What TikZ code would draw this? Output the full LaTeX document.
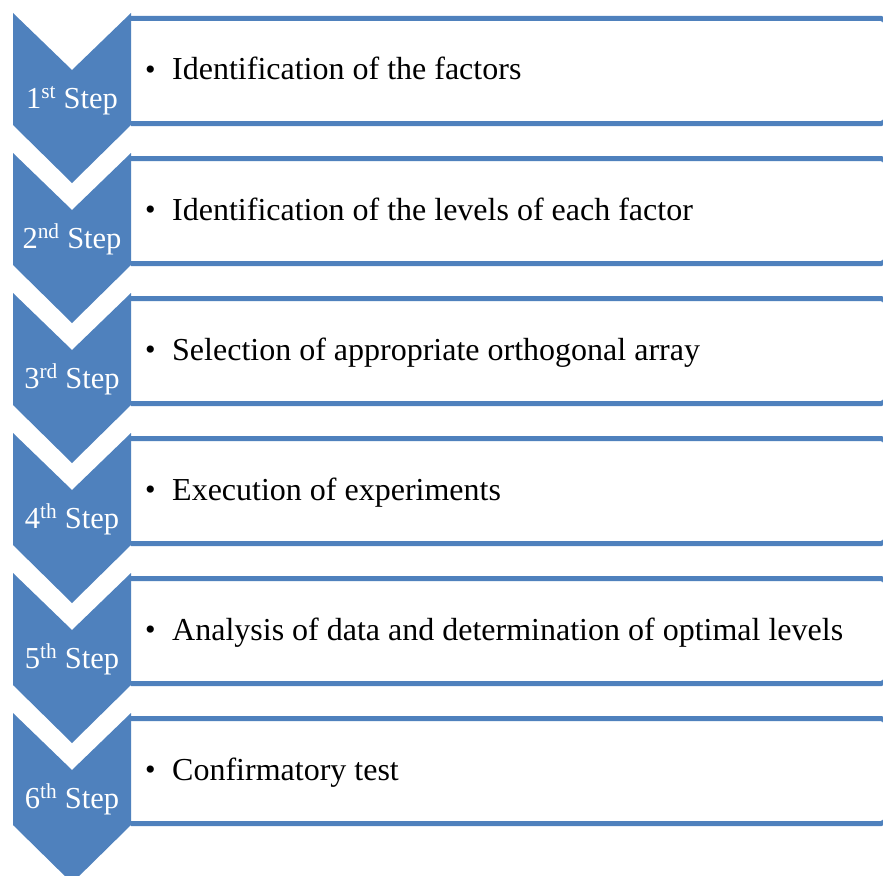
\documentclass[tikz,border=0pt]{standalone}
\usepackage{fontspec}
\setmainfont{Liberation Serif}
\definecolor{stepblue}{HTML}{4F81BD}
\begin{document}
\begin{tikzpicture}[x=1pt,y=-1pt,
  chev/.style={fill=stepblue,draw=none},
  rowbox/.style={draw=stepblue,line width=5pt,fill=white,rounded corners=5pt},
  steplabel/.style={text=white,anchor=base,inner sep=0pt,font=\fontsize{30.5}{34}\selectfont},
  itemtext/.style={anchor=base west,inner sep=0pt,font=\fontsize{32}{36}\selectfont},
  bullet/.style={anchor=base west,inner sep=0pt,font=\fontsize{30}{34}\selectfont}]
\useasboundingbox (0,0) rectangle (883,875);
\begin{scope}
\clip (0,0) rectangle (883,875);
\foreach \i/\lab/\txt in {0/1\textsuperscript{st} Step/Identification of the factors,
  1/2\textsuperscript{nd} Step/Identification of the levels of each factor,
  2/3\textsuperscript{rd} Step/Selection of appropriate orthogonal array,
  3/4\textsuperscript{th} Step/Execution of experiments,
  4/5\textsuperscript{th} Step/Analysis of data and determination of optimal levels,
  5/6\textsuperscript{th} Step/Confirmatory test}{
  \pgfmathsetmacro{\o}{140*\i}
  \draw[rowbox] (131,18.5+\o) -- (886,18.5+\o) -- (886,123.5+\o) -- (131,123.5+\o);
  \fill[chev] (13,13+\o) -- (72,70+\o) -- (131,13+\o) -- (131,125+\o) -- (72,183+\o) -- (13,125+\o) -- cycle;
  \node[steplabel] (lab\i) at (72,108+\o) {\lab};
  \node[bullet] (bul\i) at (145,79+\o) {•};
  \node[itemtext] (txt\i) at (172,80+\o) {\txt};
}
\end{scope}
\end{tikzpicture}
\end{document}
